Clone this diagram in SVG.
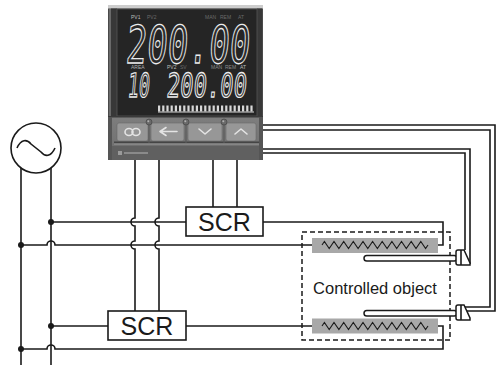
<svg xmlns="http://www.w3.org/2000/svg" width="497" height="365" viewBox="0 0 497 365">
<defs>
<style>
.w{fill:none;stroke:#1a1a1a;stroke-width:1.6}
.box{fill:#fff;stroke:#1a1a1a;stroke-width:1.6}
.lbl{font-family:"Liberation Sans",Arial,sans-serif;fill:#1a1a1a}
.heat{fill:#a8a8a8}
.zz{fill:none;stroke:#1a1a1a;stroke-width:1.1}
.dot{fill:#1a1a1a}
.seg{font-family:"DejaVu Sans Mono",monospace;fill:#2a2a2a;stroke:#ececec;stroke-width:1.3}
.tiny{font-family:"Liberation Sans",Arial,sans-serif;font-size:5px}
.btn{fill:#979797;stroke:#6a6a6a;stroke-width:0.6}
.ico{fill:none;stroke:#e4e4e4;stroke-width:1.6;stroke-linecap:round;stroke-linejoin:round}
.tube{fill:#fff;stroke:#1a1a1a;stroke-width:1.5}
</style>
<linearGradient id="panel" x1="0" y1="0" x2="0" y2="1">
<stop offset="0" stop-color="#7e7e7e"/>
<stop offset="0.6" stop-color="#747474"/>
<stop offset="1" stop-color="#5c5c5c"/>
</linearGradient>
<polyline id="zig" class="zz" points="322,0 324.4,-3.5 329.2,3.5 334,-3.5 338.9,3.5 343.7,-3.5 348.5,3.5 353.3,-3.5 358.1,3.5 363,-3.5 367.8,3.5 372.6,-3.5 377.4,3.5 382.2,-3.5 387.1,3.5 391.9,-3.5 396.7,3.5 401.5,-3.5 406.3,3.5 411.2,-3.5 416,3.5 420.8,-3.5 425.6,3.5 428,0"/>
</defs>
<rect width="497" height="365" fill="#fff"/>

<g id="connectors">
<path class="w" d="M21,168 V365"/>
<path class="w" d="M51,168 V365"/>
<path class="w" d="M51,222 H186"/>
<path class="w" d="M21,245 H47 A4,4 0 0 1 55,245 H322"/>
<path class="w" d="M263,222 H443 V245 H428"/>
<path class="w" d="M51,326 H108"/>
<path class="w" d="M186,326 H322"/>
<path class="w" d="M21,349 H47 A4,4 0 0 1 55,349 H443 V326 H428"/>
<path class="w" d="M135,160 V218 A4,4 0 0 0 135,226 V241 A4,4 0 0 0 135,249 V311"/>
<path class="w" d="M159,160 V218 A4,4 0 0 0 159,226 V241 A4,4 0 0 0 159,249 V311"/>
<path class="w" d="M213,160 V207"/>
<path class="w" d="M237,160 V207"/>
<path class="w" d="M262,125 H495 V311 H467"/>
<path class="w" d="M262,130 H490 V307 H465"/>
<path class="w" d="M262,149 H470 V264"/>
<path class="w" d="M262,153 H465 V250"/>
<circle class="dot" cx="51" cy="222" r="3"/>
<circle class="dot" cx="21" cy="245" r="3"/>
<circle class="dot" cx="51" cy="326" r="3"/>
<circle class="dot" cx="21" cy="349" r="3"/>
</g>

<g id="ac-source">
<circle cx="36" cy="148" r="25" fill="#fff" stroke="#1a1a1a" stroke-width="1.6"/>
<path class="w" d="M17,148 C21,139 27,139 31,144 L41,152 C45,157 51,157 55,148"/>
</g>

<g id="scr-1">
<rect class="box" x="186" y="207" width="77" height="29"/>
<text class="lbl" x="224.5" y="231" font-size="25" text-anchor="middle">SCR</text>
</g>

<g id="scr-2">
<rect class="box" x="108" y="311" width="78" height="29"/>
<text class="lbl" x="147" y="335" font-size="25" text-anchor="middle">SCR</text>
</g>

<g id="controlled-object">
<rect x="302" y="232" width="148" height="108" fill="none" stroke="#1a1a1a" stroke-width="1.5" stroke-dasharray="5 3"/>
<text class="lbl" x="375" y="294" font-size="16.5" text-anchor="middle">Controlled object</text>
</g>

<g id="heater-1">
<rect class="heat" x="312" y="238" width="126" height="15"/>
<use href="#zig" y="245"/>
</g>

<g id="heater-2">
<rect class="heat" x="312" y="318.5" width="126" height="15"/>
<use href="#zig" y="326"/>
</g>

<g id="thermocouple-1">
<rect class="tube" x="364" y="255.5" width="93" height="5.5" rx="2.75"/>
<path class="tube" d="M458,250 H464 L470,263 V265 H458 Q456,265 456,263 V252 Q456,250 458,250 Z"/>
<path class="w" d="M461,250 V265" stroke-width="1.2"/>
</g>

<g id="thermocouple-2">
<rect class="tube" x="364" y="310.5" width="93" height="5.5" rx="2.75"/>
<path class="tube" d="M458,305 H464 L470,318 V320 H458 Q456,320 456,318 V307 Q456,305 458,305 Z"/>
<path class="w" d="M461,305 V320" stroke-width="1.2"/>
</g>

<g id="controller">
<rect x="108" y="5" width="155" height="155" fill="#4a4a4a"/>
<rect x="108" y="5" width="155" height="3.5" fill="#cdcdcd"/>
<rect x="109.5" y="8.5" width="1" height="108" fill="#8a8a8a"/>
<rect x="111" y="8.5" width="6" height="108" fill="#383838"/>
<rect x="257" y="8.5" width="5" height="108" fill="#383838"/>
<rect x="117" y="9" width="140" height="107" fill="#252525" stroke="#555" stroke-width="0.8"/>
<text class="tiny" x="131" y="19" fill="#bdbdbd">PV1</text>
<text class="tiny" x="147" y="19" fill="#6a6a6a">PV2</text>
<text class="tiny" x="205" y="19" fill="#6a6a6a">MAN</text>
<text class="tiny" x="220" y="19" fill="#6a6a6a">REM</text>
<text class="tiny" x="238" y="19" fill="#6a6a6a">AT</text>
<text class="seg" x="125" y="63" font-size="52" textLength="124" lengthAdjust="spacingAndGlyphs" transform="skewX(-5) translate(5.5,0)">200.00</text>
<text class="tiny" x="131" y="69" fill="#b0b0b0">AREA</text>
<text class="tiny" x="167" y="69" fill="#bdbdbd">PV2</text>
<text class="tiny" x="180" y="69" fill="#6a6a6a">SV</text>
<text class="tiny" x="211" y="69" fill="#8a8a8a">MAN</text>
<text class="tiny" x="225" y="69" fill="#8a8a8a">REM</text>
<text class="tiny" x="240" y="69" fill="#bdbdbd">AT</text>
<text class="seg" x="127" y="97" font-size="33" textLength="22" lengthAdjust="spacingAndGlyphs" transform="skewX(-5) translate(8.5,0)" stroke-width="1.1">10</text>
<text class="seg" x="166" y="97" font-size="33" textLength="80" lengthAdjust="spacingAndGlyphs" transform="skewX(-5) translate(8.5,0)" stroke-width="1.1">200.00</text>
<path d="M158,108.5 H254" stroke="#d8d8d8" stroke-width="6" stroke-dasharray="2.2 2"/>
<path d="M158,112 H254" stroke="#d8d8d8" stroke-width="1.2"/>
<rect x="108" y="116" width="155" height="44" fill="url(#panel)"/>
<rect x="108" y="116" width="155" height="1.5" fill="#3a3a3a"/>
<rect x="108" y="117" width="4" height="43" fill="#555"/>
<rect x="259" y="117" width="4" height="43" fill="#555"/>
<rect class="btn" x="117" y="123" width="31" height="18" rx="2"/>
<rect class="btn" x="151" y="123" width="33" height="18" rx="2"/>
<rect class="btn" x="188" y="123" width="34" height="18" rx="2"/>
<rect class="btn" x="226" y="123" width="30" height="18" rx="2"/>
<rect x="114" y="141.5" width="145" height="2" fill="#454545"/>
<rect x="114" y="143.5" width="145" height="1" fill="#9a9a9a"/>
<rect x="112" y="146" width="147" height="14" fill="#606060"/>
<rect x="118" y="151" width="4" height="4" fill="#9a9a9a"/>
<rect x="124" y="152" width="24" height="2" fill="#8a8a8a"/>
<path d="M149,124 V143 M186,124 V143 M224,124 V143" stroke="#5a5a5a" stroke-width="1.2"/>
<circle cx="149" cy="122" r="3" fill="#6a6a6a" stroke="#3f3f3f" stroke-width="0.6"/>
<circle cx="186" cy="122" r="3" fill="#6a6a6a" stroke="#3f3f3f" stroke-width="0.6"/>
<circle cx="224" cy="122" r="3" fill="#6a6a6a" stroke="#3f3f3f" stroke-width="0.6"/>
<circle cx="148.3" cy="121.3" r="1" fill="#b0b0b0"/>
<circle cx="185.3" cy="121.3" r="1" fill="#b0b0b0"/>
<circle cx="223.3" cy="121.3" r="1" fill="#b0b0b0"/>
<ellipse class="ico" cx="129" cy="132" rx="4" ry="3.5"/>
<ellipse class="ico" cx="136" cy="132" rx="4" ry="3.5"/>
<path class="ico" d="M166,127.5 L160,131.5 L166,135.5 M162,131.5 H177"/>
<path class="ico" d="M199,129 L205,134 L211,129"/>
<path class="ico" d="M235,134 L241,129 L247,134"/>
</g>
</svg>
